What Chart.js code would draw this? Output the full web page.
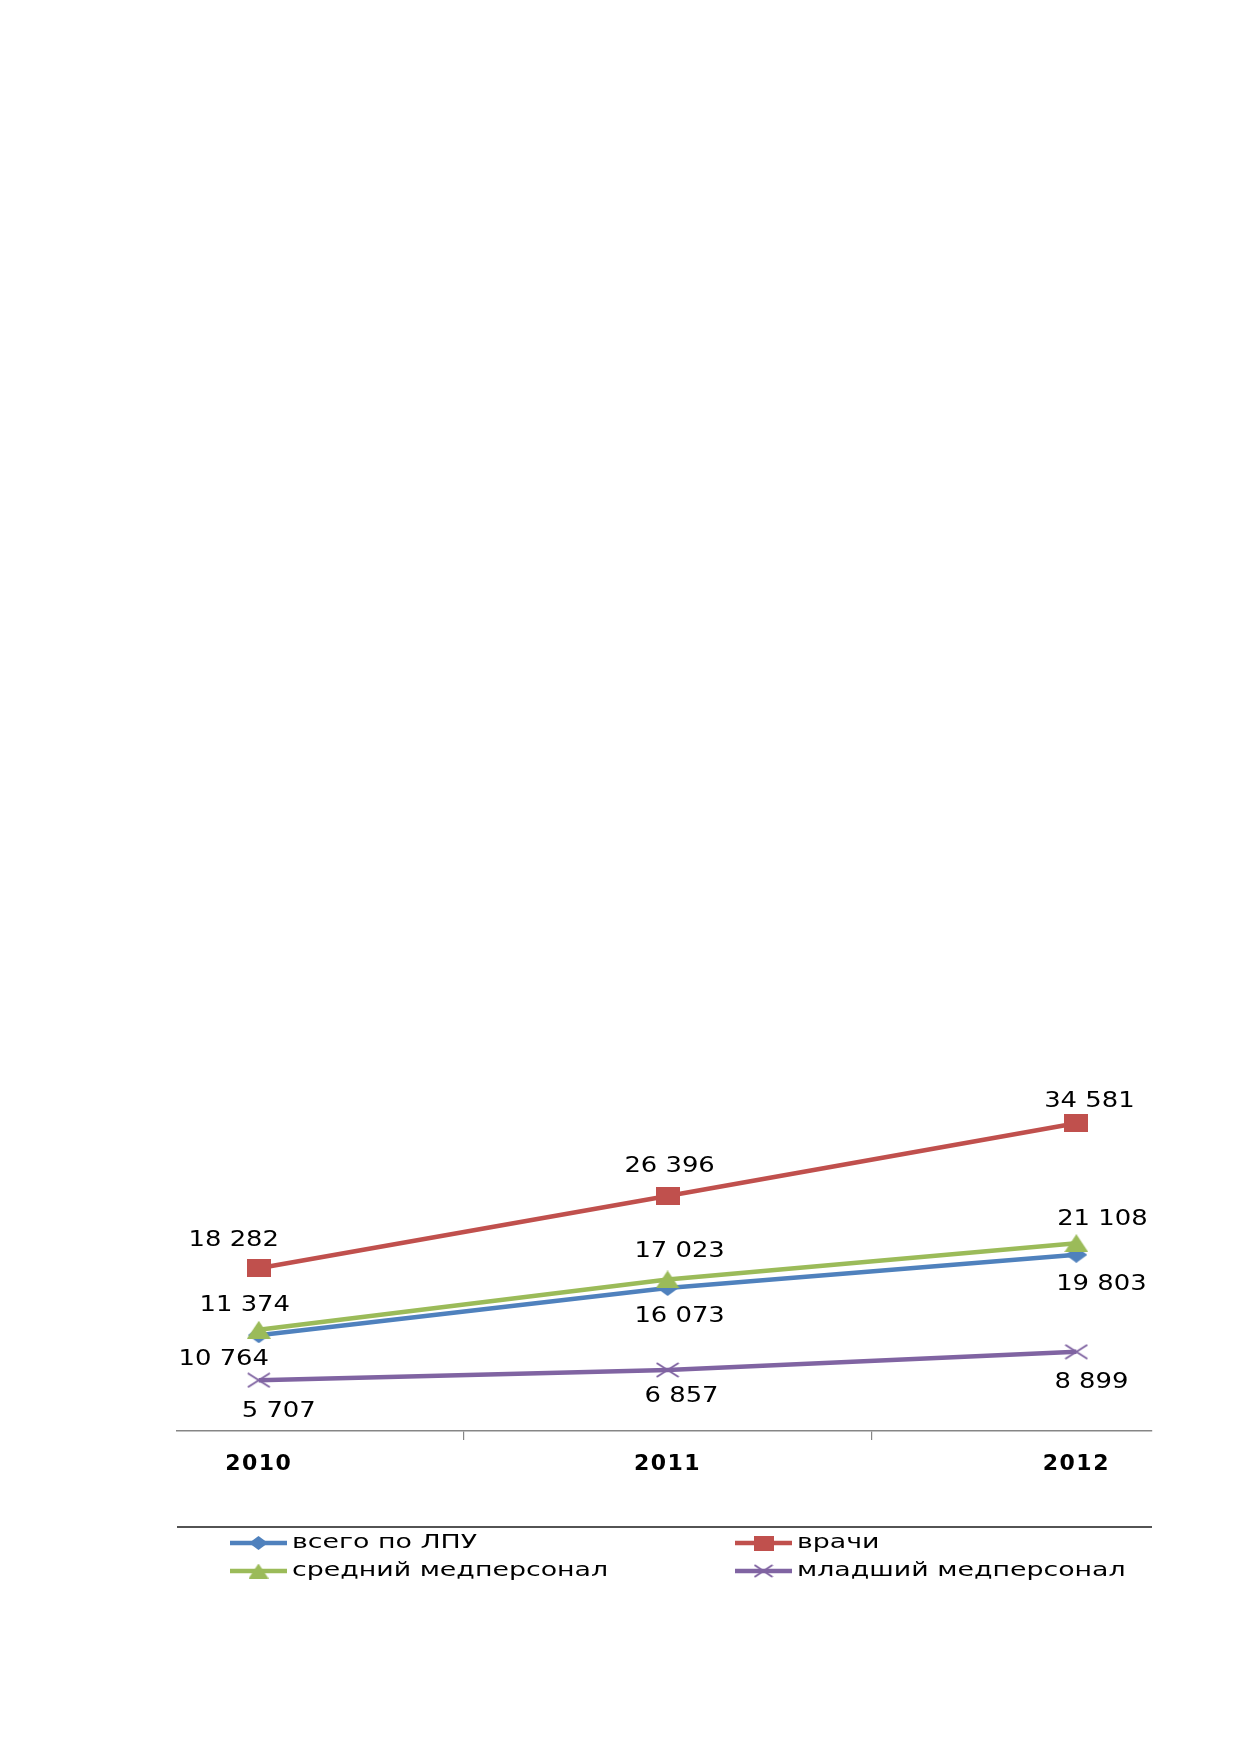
<!DOCTYPE html>
<html>
<head>
<meta charset="utf-8">
<script src="https://cdn.jsdelivr.net/npm/chart.js@4.4.1/dist/chart.umd.min.js"></script>
<style>
  html, body { margin: 0; padding: 0; background: #ffffff; }
  #wrap { width: 1239px; height: 1752px; position: relative; }
  canvas { display: block; }
</style>
</head>
<body>
<div id="wrap"><canvas id="c" width="1239" height="1752"></canvas></div>
<script>
// ---- data ----
const categories = ['2010', '2011', '2012'];
const seriesNames = ['всего по ЛПУ', 'врачи', 'средний медперсонал', 'младший медперсонал'];
const vsegoLPU = [10764, 16073, 19803];
const vrachi   = [18282, 26396, 34581];
const sredniy  = [11374, 17023, 21108];
const mladshiy = [5707, 6857, 8899];

// ---- styles ----
const colors = ['#4F81BD', '#C0504D', '#9BBB59', '#8064A2'];
const shapes = ['diamond', 'square', 'triangle', 'cross'];

function makeMarker(shape, w, h, color) {
  const c = document.createElement('canvas');
  c.width = w; c.height = h;
  const g = c.getContext('2d');
  g.fillStyle = color; g.strokeStyle = color;
  g.beginPath();
  if (shape === 'square') {
    g.fillRect(0, 0, w, h);
  } else if (shape === 'diamond') {
    g.moveTo(w / 2, 0); g.lineTo(w, h / 2); g.lineTo(w / 2, h); g.lineTo(0, h / 2); g.closePath(); g.fill();
  } else if (shape === 'triangle') {
    g.moveTo(w / 2, 0); g.lineTo(w, h); g.lineTo(0, h); g.closePath(); g.fill();
  } else if (shape === 'cross') {
    g.lineWidth = 2;
    g.moveTo(1, 1); g.lineTo(w - 1, h - 1);
    g.moveTo(w - 1, 1); g.lineTo(1, h - 1);
    g.stroke();
  }
  return c;
}
const markerSizes = [[22, 16], [24, 18], [24, 18], [24, 16]];
const markers = shapes.map((s, i) => makeMarker(s, markerSizes[i][0], markerSizes[i][1], colors[i]));
const legendMarkers = shapes.map((s, i) => makeMarker(s, Math.round(markerSizes[i][0] * 0.85), Math.round(markerSizes[i][1] * 0.85), colors[i]));

// label offsets (dx, dy of label baseline-centre relative to point)
const labelOffsets = [
  [[-35, 30], [12, 34], [25, 35]],
  [[-25, -22], [2, -24], [13, -16]],
  [[-14, -19], [12, -22], [26, -18]],
  [[20, 37], [14, 32], [15, 36]]
];

function fmt(v) { return String(v).replace(/\B(?=(\d{3})+(?!\d))/g, ' '); }
function toXY(arr) { return arr.map((v, i) => ({ x: i, y: v })); }

const allSeries = [vsegoLPU, vrachi, sredniy, mladshiy];
const drawOrder = [3, 2, 1, 0];

const datasets = allSeries.map((arr, i) => ({
  label: seriesNames[i],
  data: toXY(arr),
  borderColor: colors[i],
  backgroundColor: colors[i],
  borderWidth: 4.5,
  pointStyle: markers[i],
  pointRadius: 10,
  pointHoverRadius: 10,
  tension: 0,
  order: drawOrder[i]
}));

const dataLabelPlugin = {
  id: 'dataLabels',
  afterDatasetsDraw(chart) {
    const ctx = chart.ctx;
    chart.data.datasets.forEach((ds, di) => {
      const meta = chart.getDatasetMeta(di);
      meta.data.forEach((pt, pi) => {
        const off = labelOffsets[di][pi];
        const txt = fmt(ds.data[pi].y);
        ctx.save();
        ctx.letterSpacing = '0px';
        ctx.font = '21px "DejaVu Sans"';
        ctx.fillStyle = '#000000';
        ctx.textAlign = 'center';
        ctx.textBaseline = 'alphabetic';
        ctx.translate(pt.x + off[0], pt.y + off[1]);
        ctx.scale(1.23, 1);
        ctx.fillText(txt, 0, 0);
        ctx.restore();
      });
    });
  }
};

const legendPlugin = {
  id: 'customLegend',
  afterDraw(chart) {
    const ctx = chart.ctx;
    const area = chart.chartArea;
    ctx.save();
    ctx.letterSpacing = '0px';
    // separator line
    ctx.strokeStyle = '#1a1a1a';
    ctx.lineWidth = 1.5;
    ctx.beginPath();
    ctx.moveTo(area.left, 1527);
    ctx.lineTo(area.right, 1527);
    ctx.stroke();
    const colX = [230, 735];
    const rowY = [1543, 1571];
    chart.data.datasets.forEach((ds, i) => {
      const x0 = colX[i % 2];
      const y = rowY[Math.floor(i / 2)];
      ctx.strokeStyle = ds.borderColor;
      ctx.lineWidth = 4.5;
      ctx.beginPath();
      ctx.moveTo(x0, y);
      ctx.lineTo(x0 + 57, y);
      ctx.stroke();
      const m = legendMarkers[i];
      ctx.drawImage(m, x0 + 28.5 - m.width / 2, y - m.height / 2);
      ctx.save();
      ctx.font = '20px "DejaVu Sans"';
      ctx.fillStyle = '#000000';
      ctx.textAlign = 'left';
      ctx.textBaseline = 'alphabetic';
      ctx.translate(x0 + 62, y + 5);
      ctx.scale(1.34, 1);
      ctx.fillText(ds.label, 0, 0);
      ctx.restore();
    });
    ctx.restore();
  }
};

const spacingPlugin = {
  id: 'spacing',
  beforeDraw(chart) { chart.ctx.letterSpacing = '1.5px'; }
};

new Chart(document.getElementById('c'), {
  type: 'line',
  data: { datasets },
  options: {
    responsive: false,
    devicePixelRatio: 1,
    animation: false,
    events: [],
    layout: { padding: { top: 1075, left: 177, right: 87, bottom: 261 } },
    plugins: { legend: { display: false }, tooltip: { enabled: false } },
    scales: {
      x: {
        type: 'linear',
        min: -0.2,
        max: 2.185,
        afterBuildTicks(scale) {
          scale.ticks = [0, 0.5, 1, 1.5, 2].map(v => ({ value: v }));
        },
        afterFit(scale) { scale.height = 60; },
        ticks: {
          autoSkip: false,
          maxRotation: 0,
          padding: 11,
          color: '#000000',
          font: { family: '"DejaVu Sans"', size: 22, weight: 'bold' },
          callback: (v) => Number.isInteger(v) ? categories[v] : ''
        },
        grid: {
          drawOnChartArea: false,
          drawTicks: true,
          tickLength: 9,
          lineWidth: 1.2,
          color: (c) => (c.tick && !Number.isInteger(c.tick.value)) ? '#868686' : 'rgba(0,0,0,0)'
        },
        border: { display: true, color: '#868686', width: 1.5 }
      },
      y: {
        display: false,
        min: 0,
        max: 40000
      }
    }
  },
  plugins: [spacingPlugin, dataLabelPlugin, legendPlugin]
});
</script>
</body>
</html>
